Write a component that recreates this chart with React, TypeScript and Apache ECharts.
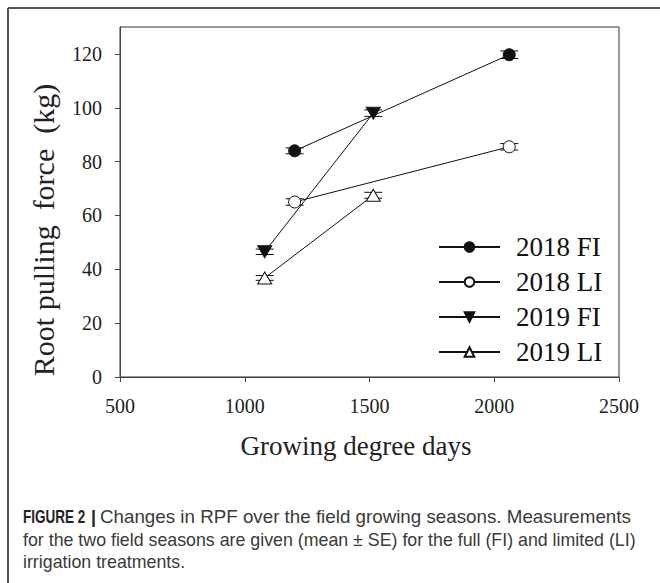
import React, { useEffect, useRef } from "react";
import * as echarts from "echarts";

// ---- data ----
const gdd2018 = [1200, 2060];
const gdd2019 = [1080, 1515];
const rpf2018FI = [84, 119.7];
const rpf2018LI = [65, 85.5];
const rpf2019FI = [46.5, 98];
const rpf2019LI = [36.8, 67.5];
const se2018FI = [1.1, 1.4];
const se2018LI = [1.2, 1.2];
const se2019FI = [1.0, 1.2];
const se2019LI = [0.9, 1.1];
const seriesNames = ["2018 FI", "2018 LI", "2019 FI", "2019 LI"];
const xTicks = [500, 1000, 1500, 2000, 2500];
const yTicks = [0, 20, 40, 60, 80, 100, 120];
const xTitle = "Growing degree days";
const yTitle = "Root pulling\u00A0 force\u00A0 (kg)";
const captionBold = "FIGURE 2";
const captionLine1 = "Changes in RPF over the field growing seasons. Measurements";
const captionLine2 =
  "for the two field seasons are given (mean \u00B1 SE) for the full (FI) and limited (LI)";
const captionLine3 = "irrigation treatments.";

const SERIF = "'Liberation Serif', 'Times New Roman', serif";
const SANS = "'Liberation Sans', Arial, sans-serif";
const INK = "#111";

function pairs(xs: number[], ys: number[]) {
  return xs.map((x, i) => [x, ys[i]]);
}
function triples(xs: number[], ys: number[], es: number[]) {
  return xs.map((x, i) => [x, ys[i], es[i]]);
}

export default function App() {
  const ref = useRef<HTMLDivElement>(null);

  useEffect(() => {
    if (!ref.current) return;
    const chart = echarts.init(ref.current, undefined, { renderer: "svg" });

    const errRender = (params: any, api: any) => {
      const x = api.value(0);
      const y = api.value(1);
      const e = api.value(2);
      const hi = api.coord([x, y + e]);
      const lo = api.coord([x, y - e]);
      const hw = 9;
      const st = { stroke: INK, lineWidth: 1 };
      return {
        type: "group",
        children: [
          { type: "line", shape: { x1: hi[0], y1: hi[1], x2: lo[0], y2: lo[1] }, style: st },
          { type: "line", shape: { x1: hi[0] - hw, y1: hi[1], x2: hi[0] + hw, y2: hi[1] }, style: st },
          { type: "line", shape: { x1: lo[0] - hw, y1: lo[1], x2: lo[0] + hw, y2: lo[1] }, style: st },
        ],
      };
    };

    const errSeries = [
      triples(gdd2018, rpf2018FI, se2018FI),
      triples(gdd2018, rpf2018LI, se2018LI),
      triples(gdd2019, rpf2019FI, se2019FI),
      triples(gdd2019, rpf2019LI, se2019LI),
    ].map((d) => ({
      type: "custom",
      renderItem: errRender,
      data: d,
      z: 1,
      silent: true,
      encode: { x: 0, y: 1 },
    }));

    const lineBase = {
      type: "line",
      lineStyle: { color: INK, width: 1 },
      z: 3,
    };

    const captionStyle = {
      fontSize: 17.8,
      fontFamily: SANS,
      fill: "#3a3a3a",
      align: "left",
      verticalAlign: "middle",
    };

    const option: any = {
      animation: false,
      backgroundColor: "#fff",
      grid: {
        left: 120,
        right: 41,
        top: 27,
        bottom: 206,
        show: true,
        borderColor: "#333",
        borderWidth: 1,
        containLabel: false,
      },
      xAxis: {
        type: "value",
        min: 500,
        max: 2500,
        interval: 500,
        axisLine: { show: true, lineStyle: { color: "#444", width: 1 } },
        axisTick: { show: true, inside: false, length: 5, lineStyle: { color: "#444" } },
        splitLine: { show: false },
        axisLabel: {
          fontSize: 20,
          fontFamily: SERIF,
          color: "#222",
          margin: 19,
          customValues: xTicks,
          formatter: (v: number) => String(v),
        },
      },
      yAxis: {
        type: "value",
        min: 0,
        max: 130,
        interval: 20,
        axisLine: { show: true, lineStyle: { color: "#444", width: 1 } },
        axisTick: {
          show: true,
          inside: false,
          length: 5,
          lineStyle: { color: "#444" },
          customValues: yTicks,
        },
        splitLine: { show: false },
        axisLabel: {
          fontSize: 20,
          fontFamily: SERIF,
          color: "#222",
          margin: 18,
          customValues: yTicks,
          formatter: (v: number) => String(v),
        },
      },
      legend: {
        orient: "vertical",
        left: 438,
        top: 233,
        padding: 0,
        itemWidth: 61,
        itemHeight: 12,
        itemGap: 7,
        data: seriesNames,
        textStyle: {
          fontSize: 27,
          fontFamily: SERIF,
          color: INK,
          lineHeight: 28,
          padding: [0, 0, 0, 11],
        },
      },
      series: [
        ...errSeries,
        {
          ...lineBase,
          name: seriesNames[0],
          data: pairs(gdd2018, rpf2018FI),
          symbol: "circle",
          symbolSize: 12,
          itemStyle: { color: INK, borderColor: INK, borderWidth: 1 },
        },
        {
          ...lineBase,
          name: seriesNames[1],
          data: pairs(gdd2018, rpf2018LI),
          symbol: "circle",
          symbolSize: 12,
          itemStyle: { color: "#fff", borderColor: INK, borderWidth: 1 },
        },
        {
          ...lineBase,
          name: seriesNames[2],
          data: pairs(gdd2019, rpf2019FI),
          symbol: "triangle",
          symbolRotate: 180,
          symbolSize: [14, 12],
          itemStyle: { color: INK, borderColor: INK, borderWidth: 1 },
        },
        {
          ...lineBase,
          name: seriesNames[3],
          data: pairs(gdd2019, rpf2019LI),
          symbol: "triangle",
          symbolSize: [14, 12],
          itemStyle: { color: "#fff", borderColor: INK, borderWidth: 1 },
        },
      ],
      graphic: [
        // outer figure frame
        { type: "line", shape: { x1: 8, y1: 8, x2: 660, y2: 8 }, style: { stroke: "#555", lineWidth: 2 } },
        { type: "line", shape: { x1: 8, y1: 8, x2: 8, y2: 583 }, style: { stroke: "#555", lineWidth: 2 } },
        {
          type: "text",
          x: 43,
          y: 230,
          rotation: Math.PI / 2,
          style: {
            text: yTitle,
            fontSize: 30,
            fontFamily: SERIF,
            fill: "#222",
            align: "center",
            verticalAlign: "middle",
          },
        },
        {
          type: "text",
          x: 356,
          y: 446,
          style: {
            text: xTitle,
            fontSize: 27,
            fontFamily: SERIF,
            fill: "#222",
            align: "center",
            verticalAlign: "middle",
          },
        },
        {
          type: "text",
          x: 23,
          y: 517,
          scaleX: 0.76,
          style: { ...captionStyle, text: captionBold, fontWeight: "bold", fill: "#222" },
        },
        {
          type: "text",
          x: 91,
          y: 517,
          style: { ...captionStyle, text: "|", fontWeight: "bold", fill: "#222" },
        },
        {
          type: "text",
          x: 100,
          y: 517,
          scaleX: 1.055,
          style: { ...captionStyle, text: captionLine1 },
        },
        {
          type: "text",
          x: 23,
          y: 540,
          style: { ...captionStyle, text: captionLine2 },
        },
        {
          type: "text",
          x: 23,
          y: 562,
          style: { ...captionStyle, text: captionLine3 },
        },
      ],
    };

    chart.setOption(option);
    return () => chart.dispose();
  }, []);

  return (
    <div
      ref={ref}
      style={{ position: "absolute", left: 0, top: 0, width: 660, height: 583 }}
    />
  );
}
